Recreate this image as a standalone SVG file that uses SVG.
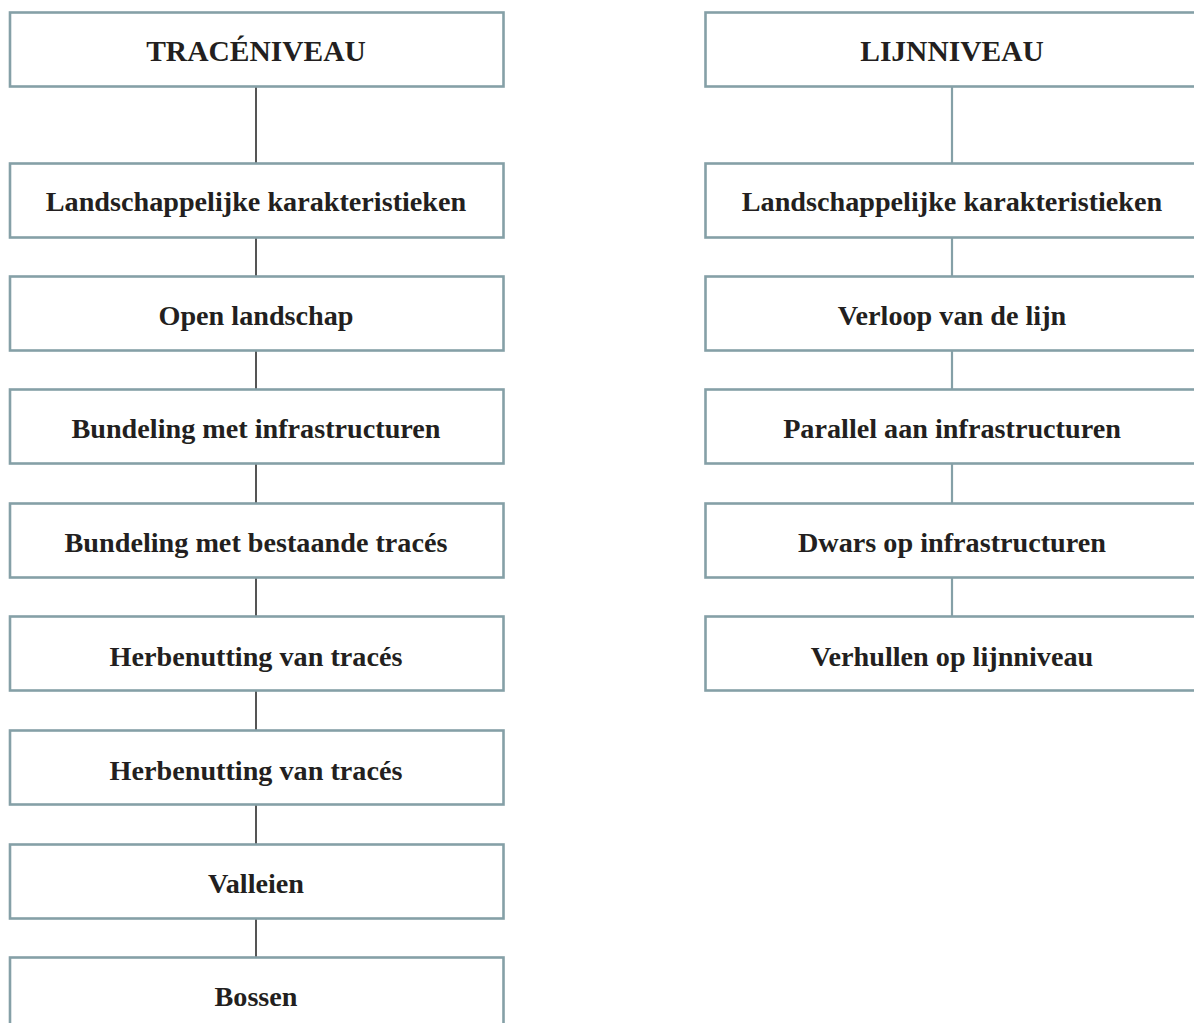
<svg xmlns="http://www.w3.org/2000/svg" width="1194" height="1023" viewBox="0 0 1194 1023">
<style>
.box{fill:#fff;stroke:#85a0a7;stroke-width:2.6}
.t{font-family:"Liberation Serif","Times New Roman",serif;font-weight:bold;font-size:28.2px;fill:#231f20;text-anchor:middle}
.h{font-size:29.5px}
.cl{stroke:#555;stroke-width:2}
.cr{stroke:#85a0a7;stroke-width:2.2}
</style>
<rect width="1194" height="1023" fill="#fff"/>
<g id="connectors">
<line class="cl" x1="256" y1="86" x2="256" y2="163"/>
<line class="cl" x1="256" y1="237" x2="256" y2="276"/>
<line class="cl" x1="256" y1="350" x2="256" y2="389"/>
<line class="cl" x1="256" y1="463" x2="256" y2="503"/>
<line class="cl" x1="256" y1="577" x2="256" y2="616"/>
<line class="cl" x1="256" y1="690" x2="256" y2="730"/>
<line class="cl" x1="256" y1="804" x2="256" y2="844"/>
<line class="cl" x1="256" y1="918" x2="256" y2="957"/>
<line class="cr" x1="952" y1="86" x2="952" y2="163"/>
<line class="cr" x1="952" y1="237" x2="952" y2="276"/>
<line class="cr" x1="952" y1="350" x2="952" y2="389"/>
<line class="cr" x1="952" y1="463" x2="952" y2="503"/>
<line class="cr" x1="952" y1="577" x2="952" y2="616"/>
</g>
<g id="n-traceniveau"><rect class="box" x="10" y="12.5" width="493.5" height="74"/><text class="t h" x="256" y="61">TRACÉNIVEAU</text></g>
<g id="n-l1"><rect class="box" x="10" y="163.5" width="493.5" height="74"/><text class="t" x="256" y="211">Landschappelijke karakteristieken</text></g>
<g id="n-l2"><rect class="box" x="10" y="276.5" width="493.5" height="74"/><text class="t" x="256" y="325">Open landschap</text></g>
<g id="n-l3"><rect class="box" x="10" y="389.5" width="493.5" height="74"/><text class="t" x="256" y="438">Bundeling met infrastructuren</text></g>
<g id="n-l4"><rect class="box" x="10" y="503.5" width="493.5" height="74"/><text class="t" x="256" y="552">Bundeling met bestaande tracés</text></g>
<g id="n-l5"><rect class="box" x="10" y="616.5" width="493.5" height="74"/><text class="t" x="256" y="666">Herbenutting van tracés</text></g>
<g id="n-l6"><rect class="box" x="10" y="730.5" width="493.5" height="74"/><text class="t" x="256" y="780">Herbenutting van tracés</text></g>
<g id="n-l7"><rect class="box" x="10" y="844.5" width="493.5" height="74"/><text class="t" x="256" y="893">Valleien</text></g>
<g id="n-l8"><rect class="box" x="10" y="957.5" width="493.5" height="74"/><text class="t" x="256" y="1006">Bossen</text></g>
<g id="n-lijnniveau"><rect class="box" x="705.5" y="12.5" width="500" height="74"/><text class="t h" x="952" y="61">LIJNNIVEAU</text></g>
<g id="n-r1"><rect class="box" x="705.5" y="163.5" width="500" height="74"/><text class="t" x="952" y="211">Landschappelijke karakteristieken</text></g>
<g id="n-r2"><rect class="box" x="705.5" y="276.5" width="500" height="74"/><text class="t" x="952" y="325">Verloop van de lijn</text></g>
<g id="n-r3"><rect class="box" x="705.5" y="389.5" width="500" height="74"/><text class="t" x="952" y="438">Parallel aan infrastructuren</text></g>
<g id="n-r4"><rect class="box" x="705.5" y="503.5" width="500" height="74"/><text class="t" x="952" y="552">Dwars op infrastructuren</text></g>
<g id="n-r5"><rect class="box" x="705.5" y="616.5" width="500" height="74"/><text class="t" x="952" y="666">Verhullen op lijnniveau</text></g>
</svg>
